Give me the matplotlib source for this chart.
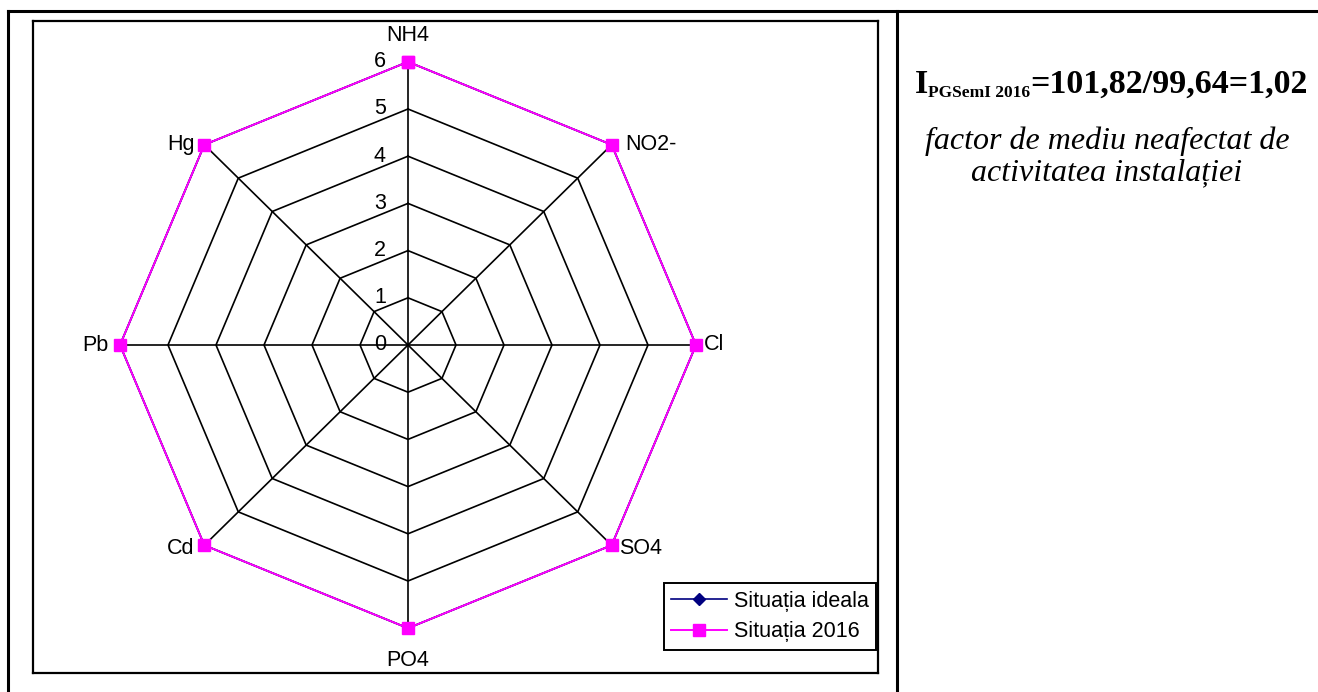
import numpy as np
import matplotlib
matplotlib.use("Agg")
import matplotlib.pyplot as plt
from matplotlib.lines import Line2D

categories = ["NH4", "NO2-", "Cl", "SO4", "PO4", "Cd", "Pb", "Hg"]
ideal = [6, 6, 6, 6, 6, 6, 6, 6]
actual_2016 = [6, 6, 6, 6, 6, 6, 6, 6]
rings = [0, 1, 2, 3, 4, 5, 6]
series_names = ["Situația ideala", "Situația 2016"]
index_main = "=101,82/99,64=1,02"
index_sub = "PGSemI 2016"
note_lines = ["factor de mediu neafectat de", "activitatea instalației"]

W, H = 1318, 692
fig = plt.figure(figsize=(W / 100, H / 100), dpi=100)

# chart frame in pixels (left, top, right, bottom) and centre
fl, ft, fr, fb = 33, 21, 878, 673
cx, cy = 408, 345
ux, uy = 48.0, 47.2   # pixels per unit

ax = fig.add_axes([fl / W, 1 - fb / H, (fr - fl) / W, (fb - ft) / H])
ax.set_xlim((fl - cx) / ux, (fr - cx) / ux)
ax.set_ylim(-(fb - cy) / uy, (cy - ft) / uy)
ax.set_xticks([])
ax.set_yticks([])
for s in ax.spines.values():
    s.set_linewidth(1.6)
    s.set_color("black")

theta = np.arange(len(categories)) * 2 * np.pi / len(categories)
sx, cs = np.sin(theta), np.cos(theta)
rmax = max(rings)

# octagon grid + spokes
for r in rings[1:]:
    ax.plot(np.append(r * sx, r * sx[0]), np.append(r * cs, r * cs[0]),
            color="black", lw=1.2, zorder=1)
for i in range(len(categories)):
    ax.plot([0, rmax * sx[i]], [0, rmax * cs[i]], color="black", lw=1.2, zorder=1)

# series
v = np.array(ideal)
ax.plot(np.append(v * sx, v[0] * sx[0]), np.append(v * cs, v[0] * cs[0]),
        color="#000080", lw=1.2, marker="D", ms=6, zorder=2)
v = np.array(actual_2016)
ax.plot(np.append(v * sx, v[0] * sx[0]), np.append(v * cs, v[0] * cs[0]),
        color="#FF00FF", lw=1.4, marker="s", ms=8, zorder=3)

fs = 15.5
# ring labels
for r in rings:
    ax.annotate(str(r), (0, r), xytext=(-16, 0), textcoords="offset points",
                ha="right", va="center", fontsize=fs, family="Liberation Sans")

# category labels (offsets in points)
offs = {
    "NH4": ((0, 19), "center"),
    "NO2-": ((10, 0), "left"),
    "Cl": ((6, 0), "left"),
    "SO4": ((5, -2), "left"),
    "PO4": ((0, -23), "center"),
    "Cd": ((-7, -2), "right"),
    "Pb": ((-8, 0), "right"),
    "Hg": ((-7, 0), "right"),
}
for i, c in enumerate(categories):
    o, ha = offs[c]
    ax.annotate(c, (rmax * sx[i], rmax * cs[i]), xytext=o, textcoords="offset points",
                ha=ha, va="center", fontsize=fs, family="Liberation Sans")

handles = [
    Line2D([], [], color="#000080", lw=1.2, marker="D", ms=6),
    Line2D([], [], color="#FF00FF", lw=1.4, marker="s", ms=8),
]
leg = ax.legend(handles, series_names, loc="lower right",
                bbox_to_anchor=(876 / W, 1 - 650 / H), bbox_transform=fig.transFigure,
                fancybox=False, framealpha=1, edgecolor="black", borderaxespad=0,
                prop={"family": "Liberation Sans", "size": fs}, handlelength=2.6,
                handletextpad=0.3, borderpad=0.35, labelspacing=0.45)
leg.get_frame().set_linewidth(1.4)

# table lines
tl = dict(color="black", lw=2.2, transform=fig.transFigure)
fig.add_artist(Line2D([8 / W, 1.0], [1 - 11 / H] * 2, **tl))
fig.add_artist(Line2D([8 / W] * 2, [0, 1 - 11 / H], **tl))
fig.add_artist(Line2D([897 / W] * 2, [0, 1 - 11 / H], **tl))

# right panel text
fig.canvas.draw()
rend = fig.canvas.get_renderer()
serif_b = dict(family="Liberation Serif", weight="bold", color="black")
t1 = fig.text(915 / W, 1 - 93 / H, "I", fontsize=24.5, va="baseline", **serif_b)
bb = t1.get_window_extent(rend)
t2 = fig.text(bb.x1 / W, (H - 97) / H, index_sub, fontsize=12.5, va="baseline", **serif_b)
bb = t2.get_window_extent(rend)
fig.text(bb.x1 / W, 1 - 93 / H, index_main, fontsize=24.5, va="baseline", **serif_b)

for k, line in enumerate(note_lines):
    fig.text(1107 / W, 1 - (141 + 32 * k) / H, line, fontsize=23, style="italic",
             family="Liberation Serif", ha="center", va="center")

fig.savefig("out.png", dpi=100)
